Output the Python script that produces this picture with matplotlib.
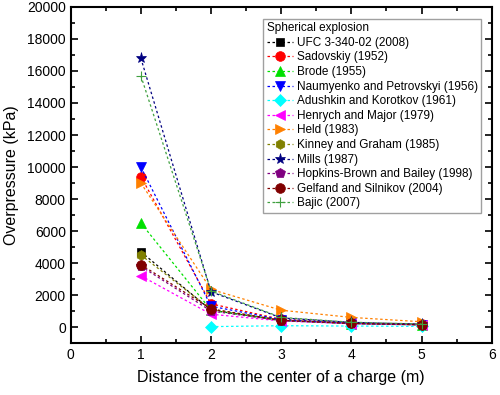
import matplotlib
matplotlib.use("Agg")
import matplotlib.pyplot as plt
import numpy as np
from matplotlib.ticker import MultipleLocator

plt.rcParams['font.family'] = ['Liberation Sans', 'DejaVu Sans']

distance = [1, 2, 3, 4, 5]

ufc = [4700, 1050, 420, 230, 150]
sadovskiy = [9400, 1450, 480, 250, 160]
brode = [6500, 1050, 400, 210, 130]
naumyenko = [10000, 1300, 460, 240, 150]
adushkin = [np.nan, 25, 80, 60, 40]
henrych = [3200, 800, 380, 200, 130]
held = [9000, 2350, 1050, 600, 330]
kinney = [4500, 1100, 430, 230, 150]
mills = [16800, 2200, 570, 290, 180]
hopkins = [3800, 1000, 400, 220, 140]
gelfand = [3900, 1130, 420, 230, 150]
bajic = [15700, 2250, 600, 300, 190]

labels = ["UFC 3-340-02 (2008)", "Sadovskiy (1952)", "Brode (1955)",
          "Naumyenko and Petrovskyi (1956)", "Adushkin and Korotkov (1961)",
          "Henrych and Major (1979)", "Held (1983)", "Kinney and Graham (1985)",
          "Mills (1987)", "Hopkins-Brown and Bailey (1998)",
          "Gelfand and Silnikov (2004)", "Bajic (2007)"]
series = [ufc, sadovskiy, brode, naumyenko, adushkin, henrych, held, kinney,
          mills, hopkins, gelfand, bajic]
colors = ['#000000', '#FF0000', '#00E000', '#0000FF', '#00FFFF', '#FF00FF',
          '#FF8000', '#808000', '#000080', '#800080', '#800000', '#40A040']
markers = ['s', 'o', '^', 'v', 'D', '<', '>', 'h', '*', 'p', 'o', '+']
msizes = [6, 7, 7, 7, 6, 7, 7, 7, 8, 7, 7, 7]

fig = plt.figure(figsize=(5.0, 3.95), dpi=100)
ax = fig.add_axes([0.1414, 0.1316, 0.842, 0.8507])

for y, lab, c, m, ms in zip(series, labels, colors, markers, msizes):
    ax.plot(distance, y, linestyle=(0, (2, 2)), linewidth=0.9, color=c,
            marker=m, markersize=ms, markeredgecolor=c, markerfacecolor=c,
            markeredgewidth=0.8 if m == '+' else 0.5, label=lab)

ax.set_xlim(0, 6)
ax.set_ylim(-1000, 20000)
ax.xaxis.set_major_locator(MultipleLocator(1))
ax.xaxis.set_minor_locator(MultipleLocator(0.5))
ax.yaxis.set_major_locator(MultipleLocator(2000))
ax.yaxis.set_minor_locator(MultipleLocator(1000))
ax.set_yticks(np.arange(0, 20001, 2000))
ax.tick_params(which='both', direction='in', top=True, right=True, labelsize=10, width=1.2)
ax.tick_params(which='major', length=5)
ax.tick_params(which='minor', length=3)
for s in ax.spines.values():
    s.set_linewidth(1.5)

ax.set_xlabel("Distance from the center of a charge (m)", fontsize=11.5, labelpad=6)
ax.set_ylabel("Overpressure (kPa)", fontsize=11.5, labelpad=6)

leg = ax.legend(loc='upper right', bbox_to_anchor=(0.975, 0.965), borderaxespad=0,
                fontsize=8.5, title="Spherical explosion", title_fontsize=8.5,
                alignment='left', labelspacing=0.22, handlelength=2.2,
                handletextpad=0.3, borderpad=0.3, fancybox=False,
                edgecolor='#A0A0A0', framealpha=1)
leg.get_frame().set_linewidth(1.0)

fig.savefig("out.png", dpi=100)
